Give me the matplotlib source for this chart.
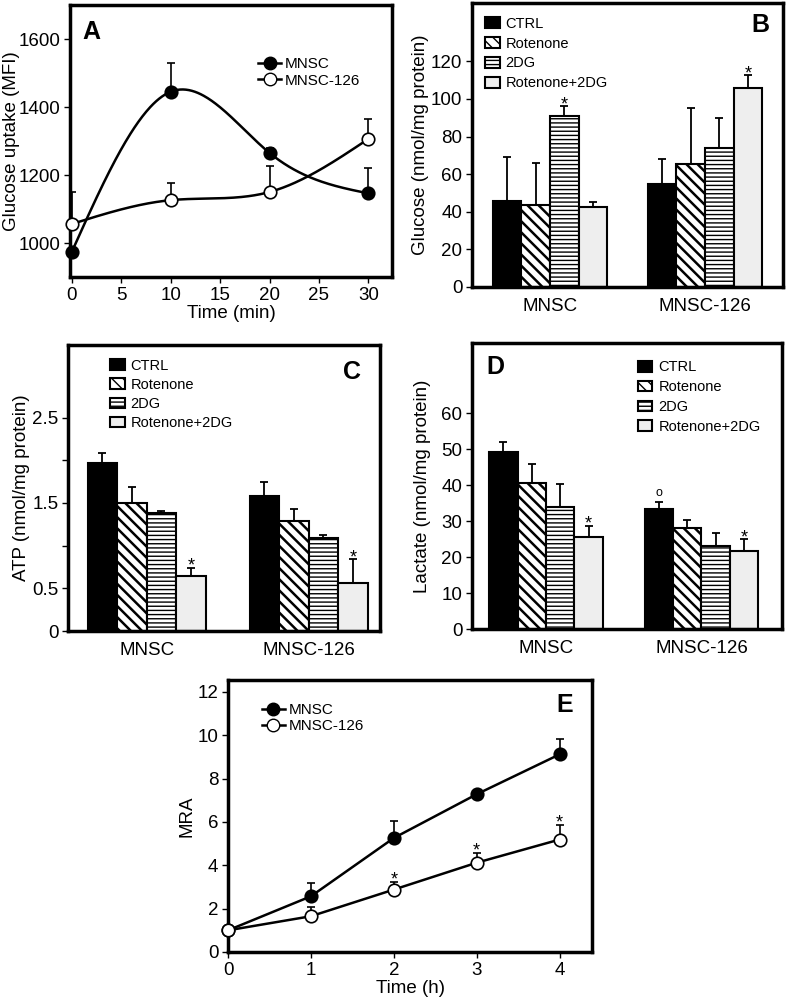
import numpy as np
import matplotlib
matplotlib.use('Agg')
import matplotlib.pyplot as plt
from matplotlib.lines import Line2D

plt.rcParams['font.family'] = ['Liberation Sans', 'DejaVu Sans']
plt.rcParams['hatch.linewidth'] = 1.0
plt.rcParams['axes.linewidth'] = 2.5

# ---------------- data ----------------
time_a = [0, 10, 20, 30]
a_mnsc = [975, 1445, 1265, 1146]
a_mnsc_err = [0, 85, 15, 75]
a_126 = [1056, 1126, 1150, 1306]
a_126_err = [95, 50, 75, 60]

groups = ['MNSC', 'MNSC-126']
treatments = ['CTRL', 'Rotenone', '2DG', 'Rotenone+2DG']

b_mnsc = [45.5, 43.5, 91, 42.5]
b_mnsc_err = [23.5, 22.5, 5, 2.5]
b_126 = [54.5, 65.5, 74, 106]
b_126_err = [13.5, 29.5, 16, 6.5]

c_mnsc = [1.97, 1.50, 1.38, 0.65]
c_mnsc_err = [0.11, 0.19, 0.03, 0.09]
c_126 = [1.58, 1.29, 1.09, 0.565]
c_126_err = [0.17, 0.14, 0.04, 0.275]

d_mnsc = [49.3, 40.5, 34.0, 25.6]
d_mnsc_err = [2.7, 5.3, 6.2, 3.1]
d_126 = [33.3, 28.1, 23.0, 21.7]
d_126_err = [2.0, 2.2, 3.6, 3.2]

time_e = [0, 1, 2, 3, 4]
e_mnsc = [1.0, 2.57, 5.26, 7.28, 9.12]
e_mnsc_err = [0, 0.6, 0.8, 0.2, 0.73]
e_126 = [1.0, 1.65, 2.88, 4.12, 5.19]
e_126_err = [0, 0.43, 0.35, 0.47, 0.69]

FS = 13.5
LFS = 10.5


def natural_spline(x, y, xs):
    x = np.asarray(x, float)
    y = np.asarray(y, float)
    n = len(x)
    h = np.diff(x)
    A = np.zeros((n, n))
    r = np.zeros(n)
    A[0, 0] = A[-1, -1] = 1
    for i in range(1, n - 1):
        A[i, i - 1] = h[i - 1]
        A[i, i] = 2 * (h[i - 1] + h[i])
        A[i, i + 1] = h[i]
        r[i] = 6 * ((y[i + 1] - y[i]) / h[i] - (y[i] - y[i - 1]) / h[i - 1])
    M = np.linalg.solve(A, r)
    idx = np.clip(np.searchsorted(x, xs) - 1, 0, n - 2)
    x0 = x[idx]
    x1 = x[idx + 1]
    hh = x1 - x0
    t0 = x1 - xs
    t1 = xs - x0
    return ((M[idx] * t0 ** 3 + M[idx + 1] * t1 ** 3) / (6 * hh)
            + (y[idx] / hh - M[idx] * hh / 6) * t0
            + (y[idx + 1] / hh - M[idx + 1] * hh / 6) * t1)


W, H = 787, 1000
fig = plt.figure(figsize=(W / 100, H / 100), dpi=100)


def add_ax(l, t, r, b):
    return fig.add_axes([l / W, 1 - b / H, (r - l) / W, (b - t) / H])


def style_ax(ax):
    ax.tick_params(axis='both', labelsize=FS, direction='out', length=4,
                   width=1, pad=3)


def panel_letter(ax, s, x, y):
    ax.text(x, y, s, transform=ax.transAxes, fontsize=18, fontweight='bold',
            ha='center', va='center')


def star(ax, x, y, s='*', dy=-2, fs=13):
    ax.annotate(s, (x, y), xytext=(0, dy), textcoords='offset points',
                ha='center', va='baseline', fontsize=fs)


# ---------------- Panel A ----------------
axA = add_ax(70, 5, 392, 277)
style_ax(axA)
xs = np.linspace(0, 30, 300)
axA.plot(xs, natural_spline(time_a, a_mnsc, xs), color='black', lw=1.8, zorder=2)
axA.plot(xs, natural_spline(time_a, a_126, xs), color='black', lw=1.8, zorder=2)
axA.errorbar(time_a, a_mnsc, yerr=[np.zeros(4), a_mnsc_err], fmt='none',
             ecolor='black', elinewidth=1.2, capsize=3, capthick=1.2, zorder=1)
axA.errorbar(time_a, a_126, yerr=[np.zeros(4), a_126_err], fmt='none',
             ecolor='black', elinewidth=1.2, capsize=3, capthick=1.2, zorder=1)
axA.plot(time_a, a_mnsc, 'o', ms=9, mfc='black', mec='black', mew=1.2, zorder=3,
         clip_on=False)
axA.plot(time_a, a_126, 'o', ms=9, mfc='white', mec='black', mew=1.2, zorder=4,
         clip_on=False)
axA.set_xlim(-0.2, 32.4)
axA.set_ylim(900, 1700)
axA.set_xticks([0, 5, 10, 15, 20, 25, 30])
axA.set_yticks([1000, 1200, 1400, 1600])
axA.set_xlabel('Time (min)', fontsize=FS, labelpad=1)
axA.set_ylabel('Glucose uptake (MFI)', fontsize=FS, va='center')
axA.yaxis.set_label_coords((12 - 70) / 322, 0.5)
hA = [Line2D([], [], color='black', lw=1.8, marker='o', ms=9, mfc='black', mec='black'),
      Line2D([], [], color='black', lw=1.8, marker='o', ms=9, mfc='white', mec='black')]
axA.legend(hA, ['MNSC', 'MNSC-126'], loc='center left', bbox_to_anchor=(0.585, 0.752),
           frameon=False, fontsize=11, handlelength=1.5, handletextpad=0.25,
           labelspacing=0.15, borderpad=0, borderaxespad=0)
panel_letter(axA, 'A', 0.067, 0.9)

# ---------------- bar panels ----------------
bar_styles = [dict(color='black', hatch=None),
              dict(color='white', hatch='\\\\\\'),
              dict(color='white', hatch='----'),
              dict(color='#eeeeee', hatch=None)]


def bar_panel(ax, v1, e1, v2, e2, width):
    for j, t in enumerate(treatments):
        xs_ = [g + (j - 1.5) * width for g in range(len(groups))]
        hs = [v1[j], v2[j]]
        es = [e1[j], e2[j]]
        st = bar_styles[j]
        bars = ax.bar(xs_, hs, width, color=st['color'], edgecolor='black',
                      linewidth=1.5, hatch=st['hatch'], label=t, zorder=2)
        if j == 1:
            for b in bars:
                if hasattr(b, 'set_hatch_linewidth'):
                    b.set_hatch_linewidth(1.8)
        ax.errorbar(xs_, hs, yerr=[np.zeros(2), es], fmt='none', ecolor='black',
                    elinewidth=1.3, capsize=3, capthick=1.3, zorder=1)
    ax.set_xticks(range(len(groups)))
    ax.set_xticklabels(groups)
    ax.tick_params(axis='x', length=0, pad=8)


def bar_x(j, g, width):
    return g + (j - 1.5) * width


# Panel B
axB = add_ax(472, 3, 783, 287)
style_ax(axB)
wB = 0.185
bar_panel(axB, b_mnsc, b_mnsc_err, b_126, b_126_err, wB)
axB.set_xlim(-0.503, 1.503)
axB.set_ylim(0, 151)
axB.set_yticks([0, 20, 40, 60, 80, 100, 120])
axB.set_ylabel('Glucose (nmol/mg protein)', fontsize=FS, va='center')
axB.yaxis.set_label_coords((420 - 472) / 311, 0.5)
star(axB, bar_x(2, 0, wB), b_mnsc[2] + b_mnsc_err[2])
star(axB, bar_x(3, 1, wB), b_126[3] + b_126_err[3])
axB.legend(loc='center left', bbox_to_anchor=(0.042, 0.822), frameon=False,
           fontsize=LFS, handlelength=1.0, handleheight=0.75, handletextpad=0.4,
           labelspacing=0.4, borderpad=0, borderaxespad=0)
panel_letter(axB, 'B', 0.926, 0.922)

# Panel C
axC = add_ax(68, 345, 380, 631)
style_ax(axC)
wC = 0.182
bar_panel(axC, c_mnsc, c_mnsc_err, c_126, c_126_err, wC)
axC.set_xlim(-0.485, 1.44)
axC.set_ylim(0, 3.35)
axC.set_yticks([0, 0.5, 1.0, 1.5, 2.0, 2.5])
axC.set_yticklabels(['0', '0.5', '', '1.5', '', '2.5'])
axC.set_ylabel('ATP (nmol/mg protein)', fontsize=FS, va='center')
axC.yaxis.set_label_coords((22 - 68) / 312, 0.5)
star(axC, bar_x(3, 0, wC), c_mnsc[3] + c_mnsc_err[3])
star(axC, bar_x(3, 1, wC), c_126[3] + c_126_err[3])
axC.legend(loc='center left', bbox_to_anchor=(0.135, 0.827), frameon=False,
           fontsize=LFS, handlelength=1.0, handleheight=0.75, handletextpad=0.4,
           labelspacing=0.35, borderpad=0, borderaxespad=0)
panel_letter(axC, 'C', 0.91, 0.906)

# Panel D
axD = add_ax(472, 343, 782, 629)
style_ax(axD)
wD = 0.183
bar_panel(axD, d_mnsc, d_mnsc_err, d_126, d_126_err, wD)
axD.set_xlim(-0.476, 1.518)
axD.set_ylim(0, 79.5)
axD.set_yticks([0, 10, 20, 30, 40, 50, 60])
axD.set_ylabel('Lactate (nmol/mg protein)', fontsize=FS, va='center')
axD.yaxis.set_label_coords((422 - 472) / 310, 0.5)
star(axD, bar_x(3, 0, wD), d_mnsc[3] + d_mnsc_err[3])
star(axD, bar_x(3, 1, wD), d_126[3] + d_126_err[3])
star(axD, bar_x(0, 1, wD), d_126[0] + d_126_err[0], s='o', dy=4, fs=9)
axD.legend(loc='center left', bbox_to_anchor=(0.535, 0.811), frameon=False,
           fontsize=LFS, handlelength=1.0, handleheight=0.75, handletextpad=0.4,
           labelspacing=0.4, borderpad=0, borderaxespad=0)
panel_letter(axD, 'D', 0.074, 0.916)

# ---------------- Panel E ----------------
axE = add_ax(228, 680, 592, 952)
style_ax(axE)
axE.errorbar(time_e, e_mnsc, yerr=[np.zeros(5), e_mnsc_err], fmt='none',
             ecolor='black', elinewidth=1.2, capsize=3, capthick=1.2, zorder=1)
axE.errorbar(time_e, e_126, yerr=[np.zeros(5), e_126_err], fmt='none',
             ecolor='black', elinewidth=1.2, capsize=3, capthick=1.2, zorder=1)
axE.plot(time_e, e_mnsc, '-o', color='black', lw=1.8, ms=9, mfc='black',
         mec='black', mew=1.2, zorder=3, clip_on=False)
axE.plot(time_e, e_126, '-o', color='black', lw=1.8, ms=9, mfc='white',
         mec='black', mew=1.2, zorder=4, clip_on=False)
for i in (2, 3, 4):
    star(axE, time_e[i], e_126[i] + e_126_err[i])
axE.set_xlim(0, 4.39)
axE.set_ylim(0, 12.55)
axE.set_xticks([0, 1, 2, 3, 4])
axE.set_yticks([0, 2, 4, 6, 8, 10, 12])
axE.set_xlabel('Time (h)', fontsize=FS, labelpad=1)
axE.set_ylabel('MRA', fontsize=FS, va='center')
axE.yaxis.set_label_coords((187 - 228) / 364, 0.5)
hE = [Line2D([], [], color='black', lw=1.8, marker='o', ms=9, mfc='black', mec='black'),
      Line2D([], [], color='black', lw=1.8, marker='o', ms=9, mfc='white', mec='black')]
axE.legend(hE, ['MNSC', 'MNSC-126'], loc='center left', bbox_to_anchor=(0.093, 0.86),
           frameon=False, fontsize=11, handlelength=1.5, handletextpad=0.25,
           labelspacing=0.15, borderpad=0, borderaxespad=0)
panel_letter(axE, 'E', 0.926, 0.908)

fig.savefig('out.png', dpi=100)
